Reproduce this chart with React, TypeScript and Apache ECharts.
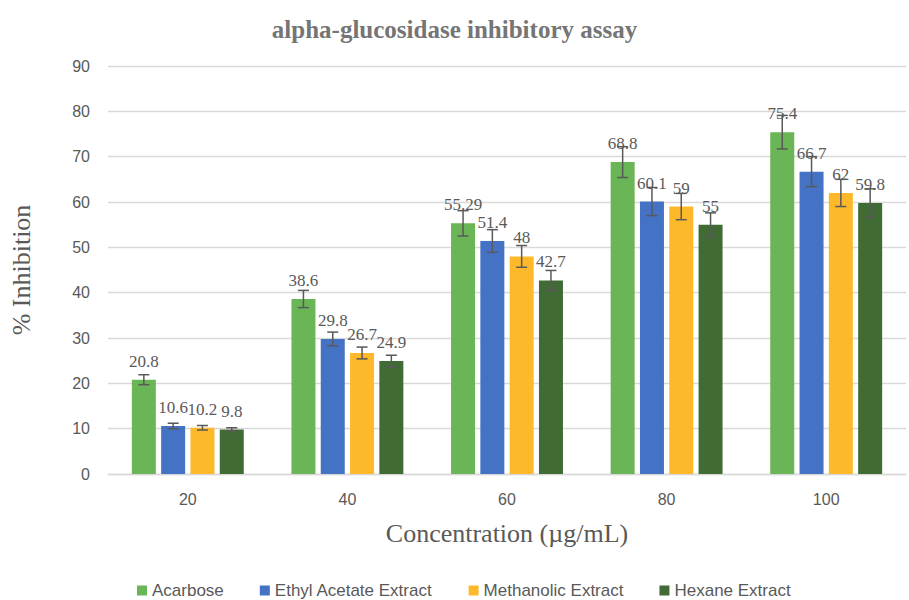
import React, { useEffect, useRef } from "react";
import * as echarts from "echarts";

const categories = ["20", "40", "60", "80", "100"];
const seriesNames = ["Acarbose", "Ethyl Acetate Extract", "Methanolic Extract", "Hexane Extract"];
const acarbose = [20.8, 38.6, 55.29, 68.8, 75.4];
const ethylAcetate = [10.6, 29.8, 51.4, 60.1, 66.7];
const methanolic = [10.2, 26.7, 48, 59, 62];
const hexane = [9.8, 24.9, 42.7, 55, 59.8];
const acarboseErr = [1.1, 1.9, 2.8, 3.4, 3.7];
const ethylAcetateErr = [0.6, 1.5, 2.5, 3.1, 3.3];
const methanolicErr = [0.5, 1.3, 2.4, 2.9, 3.0];
const hexaneErr = [0.4, 1.3, 2.2, 2.6, 3.1];
const colors = ["#6AB556", "#4472C4", "#FDB92A", "#416B35"];

const values = [acarbose, ethylAcetate, methanolic, hexane];
const errors = [acarboseErr, ethylAcetateErr, methanolicErr, hexaneErr];

const BAR_W = 24;
const GAP = 5.3;

export default function App() {
  const ref = useRef<HTMLDivElement>(null);
  useEffect(() => {
    if (!ref.current) return;
    const chart = echarts.init(ref.current, null, { renderer: "svg" });
    const total = 4 * BAR_W + 3 * GAP;
    const barSeries = values.map((vals, i) => ({
      name: seriesNames[i],
      type: "bar",
      data: vals,
      barWidth: BAR_W,
      barGap: (GAP / BAR_W) * 100 + "%",
      itemStyle: { color: colors[i] },
      label: {
        show: true,
        position: "top",
        distance: 10,
        fontFamily: "Liberation Serif",
        fontSize: 17,
        color: "#595959",
      },
      z: 2,
    }));
    const errSeries = values.map((vals, i) => ({
      name: seriesNames[i] + " err",
      type: "custom",
      data: vals.map((v, j) => [j, v - errors[i][j], v + errors[i][j]]),
      z: 10,
      silent: true,
      renderItem: (params: any, api: any) => {
        const x = api.value(0);
        const lo = api.coord([x, api.value(1)]);
        const hi = api.coord([x, api.value(2)]);
        const off = -total / 2 + BAR_W / 2 + i * (BAR_W + GAP);
        const cx = lo[0] + off;
        const hw = 5.5;
        const style = { stroke: "#595959", lineWidth: 1.5 };
        return {
          type: "group",
          children: [
            { type: "line", shape: { x1: cx, y1: hi[1], x2: cx, y2: lo[1] }, style },
            { type: "line", shape: { x1: cx - hw, y1: hi[1], x2: cx + hw, y2: hi[1] }, style },
            { type: "line", shape: { x1: cx - hw, y1: lo[1], x2: cx + hw, y2: lo[1] }, style },
          ],
        };
      },
    }));
    chart.setOption({
      animation: false,
      title: {
        text: "alpha-glucosidase inhibitory assay",
        left: "center",
        top: 12,
        textStyle: {
          fontFamily: "Liberation Serif",
          fontWeight: "bold",
          fontSize: 25,
          color: "#757575",
        },
      },
      legend: {
        data: seriesNames,
        top: 577,
        left: 132,
        itemWidth: 10,
        itemHeight: 10,
        itemGap: 36,
        icon: "rect",
        textStyle: { fontFamily: "Liberation Sans", fontSize: 17, color: "#595959" },
      },
      grid: { left: 108, right: 3, top: 66, bottom: 126, containLabel: false },
      xAxis: {
        type: "category",
        data: categories,
        name: "Concentration (µg/mL)",
        nameLocation: "middle",
        nameGap: 46,
        nameTextStyle: { fontFamily: "Liberation Serif", fontSize: 26, color: "#595959" },
        axisLine: { lineStyle: { color: "#D9D9D9", width: 1.3 } },
        axisTick: { show: false },
        axisLabel: { fontFamily: "Liberation Sans", fontSize: 16, color: "#595959", margin: 17 },
      },
      yAxis: {
        type: "value",
        min: 0,
        max: 90,
        interval: 10,
        name: "% Inhibition",
        nameLocation: "middle",
        nameGap: 74,
        nameTextStyle: { fontFamily: "Liberation Serif", fontSize: 26, color: "#595959" },
        axisLine: { show: false },
        axisTick: { show: false },
        axisLabel: { fontFamily: "Liberation Sans", fontSize: 16, color: "#595959", margin: 18 },
        splitLine: { lineStyle: { color: "#D9D9D9", width: 1.3 } },
      },
      series: [...barSeries, ...errSeries],
    } as any);
    return () => chart.dispose();
  }, []);
  return <div ref={ref} style={{ width: 909, height: 600, position: "absolute", left: 0, top: 0 }} />;
}
